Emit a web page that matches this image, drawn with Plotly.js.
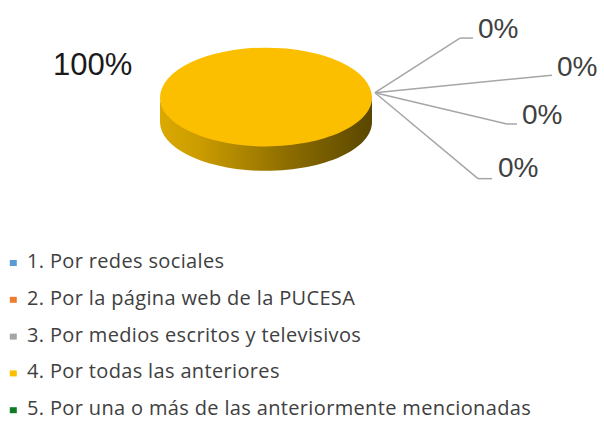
<!DOCTYPE html>
<html>
<head>
<meta charset="utf-8">
<script src="https://cdn.plot.ly/plotly-3.0.1.min.js"></script>
<style>
  html, body { margin: 0; padding: 0; background: #fff; }
  #chart { width: 604px; height: 421px; }
</style>
</head>
<body>
<div id="chart"></div>
<script>
// ---- data ----
const categories = [
  "1. Por redes sociales",
  "2. Por la página web de la PUCESA",
  "3. Por medios escritos y televisivos",
  "4. Por todas las anteriores",
  "5. Por una o más de las anteriormente mencionadas"
];
const values = [0, 0, 0, 100, 0];
const colors = ["#5B9BD5", "#ED7D31", "#A5A5A5", "#FCBF00", "#0E7C22"];

// ---- helpers (layout geometry in pixels -> paper) ----
const W = 604, H = 421;
const px = (x) => x / W;
const py = (y) => 1 - y / H;

const total = values.reduce((a, b) => a + b, 0);
const pct = values.map(v => Math.round(v / total * 100) + "%");

// pie geometry (pixels)
const cx = 266, cy = 100, rx = 106, ry = 50, depth = 25;
const k = 0.5523;

function pt(x, y) { return px(x) + "," + py(y); }
// side (extrusion) of the 3D pie: visible lower band
const sidePath =
  "M" + pt(cx - rx, cy) +
  " L" + pt(cx - rx, cy + depth) +
  " C" + pt(cx - rx, cy + depth + ry * k) + " " + pt(cx - rx * k, cy + depth + ry) + " " + pt(cx, cy + depth + ry) +
  " C" + pt(cx + rx * k, cy + depth + ry) + " " + pt(cx + rx, cy + depth + ry * k) + " " + pt(cx + rx, cy + depth) +
  " L" + pt(cx + rx, cy) +
  " C" + pt(cx + rx, cy + ry * k) + " " + pt(cx + rx * k, cy + ry) + " " + pt(cx, cy + ry) +
  " C" + pt(cx - rx * k, cy + ry) + " " + pt(cx - rx, cy + ry * k) + " " + pt(cx - rx, cy) + " Z";

// leader lines: hub -> elbow -> end ; labels for the zero slices
const hub = [375, 95];
const leaders = [
  { pts: [[460, 39], [473, 39]], lab: [498, 29] },
  { pts: [[552, 77]], lab: [577, 68] },
  { pts: [[507, 127], [517, 127]], lab: [542, 117] },
  { pts: [[478, 183], [492, 183]], lab: [518, 172] }
];
const zeroIdx = values.map((v, i) => i).filter(i => values[i] === 0);
const bigIdx = values.indexOf(Math.max(...values));

const shapes = [{
  type: "path", xref: "paper", yref: "paper", path: sidePath,
  fillcolor: "#A68000", line: { width: 0 }, layer: "above"
}];
const annotations = [{
  xref: "paper", yref: "paper", x: px(92), y: py(66),
  text: pct[bigIdx], showarrow: false, xanchor: "center", yanchor: "middle",
  font: { family: "Liberation Sans, Arial, sans-serif", size: 31, color: "#1a1a1a" }
}];
leaders.forEach((L, j) => {
  let prev = hub;
  L.pts.forEach(p => {
    shapes.push({
      type: "line", xref: "paper", yref: "paper",
      x0: px(prev[0]), y0: py(prev[1]), x1: px(p[0]), y1: py(p[1]),
      line: { color: "#A6A6A6", width: 1.5 }, layer: "above"
    });
    prev = p;
  });
  annotations.push({
    xref: "paper", yref: "paper", x: px(L.lab[0]), y: py(L.lab[1]),
    text: pct[zeroIdx[j]], showarrow: false, xanchor: "center", yanchor: "middle",
    font: { family: "Liberation Sans, Arial, sans-serif", size: 28, color: "#404040" }
  });
});

const trace = {
  type: "pie",
  labels: categories.map(c => '<span style="font-size:20px">' + c + '</span>'),
  values: values,
  marker: { colors: colors, line: { width: 0 } },
  sort: false,
  direction: "clockwise",
  textinfo: "none",
  hoverinfo: "none",
  domain: { x: [px(cx - rx), px(cx + rx)], y: [0, 1] }
};

const layout = {
  width: W, height: H,
  margin: { l: 0, r: 0, t: 0, b: 0 },
  paper_bgcolor: "#ffffff",
  showlegend: true,
  legend: {
    x: 0.02, y: 0.45, xanchor: "left", yanchor: "top",
    orientation: "v", bgcolor: "rgba(0,0,0,0)", borderwidth: 0,
    font: { family: "Open Sans, sans-serif", size: 26, color: "#404040" },
    itemclick: false, itemdoubleclick: false
  },
  shapes: shapes,
  annotations: annotations
};

function screenPt(el, p) {
  const m = el.getScreenCTM();
  return { x: m.a * p.x + m.c * p.y + m.e, y: m.b * p.x + m.d * p.y + m.f };
}

Plotly.newPlot("chart", [trace], layout, { displayModeBar: false, staticPlot: true }).then(gd => {
  const gr = gd.getBoundingClientRect();
  // squash the pie into an ellipse (3D tilt look)
  const s = ry / rx;
  const pieCy = H / 2;
  const pl = gd.querySelector(".pielayer");
  if (pl) pl.setAttribute("transform", "translate(0," + (cy - s * pieCy) + ") scale(1," + s + ")");

  // gradient for the pie side
  const svg = gd.querySelector(".main-svg");
  const defs = svg.querySelector("defs");
  const NS = "http://www.w3.org/2000/svg";
  const grad = document.createElementNS(NS, "linearGradient");
  grad.setAttribute("id", "sideGrad");
  grad.setAttribute("x1", "0"); grad.setAttribute("y1", "0");
  grad.setAttribute("x2", "1"); grad.setAttribute("y2", "0");
  [["0", "#DBA900"], ["0.2", "#C99B00"], ["0.6", "#8D6D00"], ["1", "#5A4600"]].forEach(st => {
    const e = document.createElementNS(NS, "stop");
    e.setAttribute("offset", st[0]); e.setAttribute("stop-color", st[1]);
    grad.appendChild(e);
  });
  defs.appendChild(grad);
  const sp = gd.querySelector(".shapelayer path");
  if (sp) sp.style.fill = "url(#sideGrad)";

  // place the legend: first label baseline at (27, 268)
  const leg = gd.querySelector(".legend");
  const texts = gd.querySelectorAll(".legend .traces text.legendtext");
  texts.forEach(t => { t.style.letterSpacing = "0.35px"; });
  if (leg && texts.length) {
    const p0 = screenPt(texts[0], texts[0].getStartPositionOfChar(0));
    const dx = 27 - (p0.x - gr.left), dy = 268 - (p0.y - gr.top);
    leg.setAttribute("transform", "translate(" + dx + "," + dy + ") " + (leg.getAttribute("transform") || ""));
    const clip = leg.querySelector(".scrollbox");
    if (clip) clip.removeAttribute("clip-path");
  }

  // smaller legend squares, aligned with the text
  gd.querySelectorAll(".legend .traces").forEach((t, i) => {
    const p = t.querySelector(".legendpoints path");
    const tx = t.querySelector("text.legendtext");
    if (!p || !tx) return;
    p.setAttribute("d", "M-3.5,-3h7v6h-7Z");
    const b = p.getBoundingClientRect();
    const curX = b.left + b.width / 2 - gr.left, curY = b.top + b.height / 2 - gr.top;
    const base = screenPt(tx, tx.getStartPositionOfChar(0));
    const wantX = 13.3, wantY = base.y - gr.top - 5;
    const old = p.getAttribute("transform") || "";
    p.setAttribute("transform", "translate(" + (wantX - curX) + "," + (wantY - curY) + ") " + old);
  });
});
</script>
</body>
</html>
